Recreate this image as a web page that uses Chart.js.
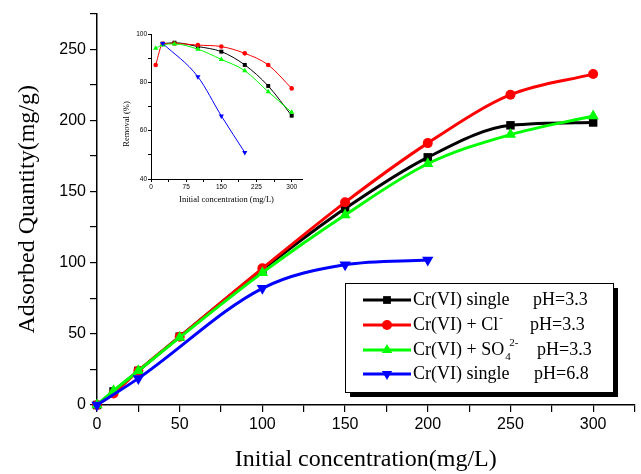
<!DOCTYPE html>
<html>
<head>
<meta charset="utf-8">
<script src="https://cdn.jsdelivr.net/npm/chart.js@4.4.1/dist/chart.umd.min.js"></script>
<style>
  html, body { margin: 0; padding: 0; background: #fff; overflow: hidden; }
  #wrap { position: relative; width: 641px; height: 474px; }
  #main { position: absolute; left: 0; top: 0; }
  #inset { position: absolute; left: 110px; top: 20px; }
</style>
</head>
<body>
<div id="wrap">
  <canvas id="main" width="641" height="474"></canvas>
  <canvas id="inset" width="200" height="195"></canvas>
</div>
<script>
// ---- Adsorption isotherms: adsorbed quantity (mg/g) vs initial concentration (mg/L)
const concA = [0, 10, 25, 50, 100, 150, 200, 250, 300];
const concB = [0, 25, 100, 150, 200];
const qSingle33 = [0, 9.5, 24, 48, 95, 138, 174, 196.5, 198.5];
const qChloride = [0, 8.1, 24, 48, 96, 142.4, 184, 218, 232.5];
const qSulfate  = [0, 10, 24, 47.5, 93, 133.5, 169.5, 190, 203];
const qSingle68 = [0, 18.7, 82, 98.5, 101.8];

// ---- Removal efficiency (%) for the small panel
const remConcA = [10, 25, 50, 100, 150, 200, 250, 300];
const remConcB = [25, 50, 100, 150, 200, 250, 300];
const remConcC = [25, 100, 150, 200];
const remSingle33 = [96, 96.4, 94.8, 92.7, 87.2, 78.5, 66.2];
const remChloride = [87.2, 95.9, 96.1, 95.4, 94.8, 92, 87.2, 77.5];
const remSulfate  = [94.1, 95.5, 95.9, 93.7, 89.5, 84.8, 76.1, 67.6];
const remSingle68 = [96.1, 82.3, 66.1, 51];

// ---- Legend text
const seriesNames = ['Cr(VI) single', 'Cr(VI) + Cl', 'Cr(VI) + SO', 'Cr(VI) single'];
const seriesSub   = ['', '', '4', ''];
const seriesSup   = ['', '-', '2-', ''];
const seriesPH    = ['pH=3.3', 'pH=3.3', 'pH=3.3', 'pH=6.8'];
const seriesColors = ['#000000', '#ff0000', '#00ff00', '#0000ff'];
const seriesMarkers = ['rect', 'circle', 'triangle', 'triangle'];
const seriesRotation = [0, 0, 0, 180];

// ---- Axis titles
const mainXTitle = 'Initial concentration(mg/L)';
const mainYTitle = 'Adsorbed Quantity(mg/g)';
const insetXTitle = 'Initial concentration (mg/L)';
const insetYTitle = 'Removal (%)';

const SANS = "'Liberation Sans', Arial, sans-serif";
const SERIF = "'Liberation Serif', 'Times New Roman', serif";

function pairs(xs, ys) { return xs.map((x, i) => ({ x: x, y: ys[i] })); }

const mainMarkerRadius = [6, 5, 6.5, 6.5];

function mainDataset(i, xs, ys) {
  return {
    label: seriesNames[i],
    data: pairs(xs, ys),
    borderColor: seriesColors[i],
    backgroundColor: seriesColors[i],
    borderWidth: 3,
    pointStyle: seriesMarkers[i],
    pointRotation: seriesRotation[i],
    pointRadius: mainMarkerRadius[i],
    pointBorderWidth: 0,
    cubicInterpolationMode: 'monotone',
    clip: false,
    order: 4 - i
  };
}

// Legend box with a drop shadow, drawn onto the main chart
const legendBox = {
  id: 'legendBox',
  afterDraw(chart) {
    const ctx = chart.ctx;
    const bx = 345, by = 283, bw = 268, bh = 109;
    ctx.save();
    ctx.fillStyle = '#000';
    ctx.fillRect(bx + 5, by + 5, bw, bh);
    ctx.fillStyle = '#fff';
    ctx.fillRect(bx, by, bw, bh);
    ctx.strokeStyle = '#000';
    ctx.lineWidth = 1;
    ctx.strokeRect(bx + 0.5, by + 0.5, bw, bh);
    const rowY = [300, 325, 350, 374];
    const radii = [5.5, 5, 6, 6];
    for (let i = 0; i < 4; i++) {
      const y = rowY[i];
      ctx.strokeStyle = seriesColors[i];
      ctx.lineWidth = 3;
      ctx.beginPath();
      ctx.moveTo(363, y);
      ctx.lineTo(411, y);
      ctx.stroke();
      ctx.fillStyle = seriesColors[i];
      Chart.helpers.drawPoint(ctx, {
        pointStyle: seriesMarkers[i], rotation: seriesRotation[i],
        radius: radii[i], borderWidth: 0
      }, 387, y);
      ctx.fillStyle = '#000';
      ctx.textBaseline = 'middle';
      ctx.textAlign = 'left';
      ctx.font = '18px ' + SERIF;
      ctx.fillText(seriesNames[i], 413, y);
      let x = 413 + ctx.measureText(seriesNames[i]).width;
      ctx.font = '11px ' + SERIF;
      if (seriesSub[i]) ctx.fillText(seriesSub[i], x + 1, y + 7);
      if (seriesSup[i]) ctx.fillText(seriesSup[i], x + (seriesSub[i] ? 5 : 1), y - 7);
      ctx.font = '18px ' + SERIF;
      const phX = [533, 530, 537, 534][i];
      ctx.fillText(seriesPH[i], phX, y);
    }
    ctx.restore();
  }
};

new Chart(document.getElementById('main'), {
  type: 'line',
  data: {
    datasets: [
      mainDataset(0, concA, qSingle33),
      mainDataset(1, concA, qChloride),
      mainDataset(2, concA, qSulfate),
      mainDataset(3, concB, qSingle68)
    ]
  },
  options: {
    responsive: false,
    animation: false,
    devicePixelRatio: 1,
    layout: { padding: { top: 7, right: 6, left: 0, bottom: 0 } },
    plugins: { legend: { display: false }, tooltip: { enabled: false } },
    scales: {
      x: {
        type: 'linear', min: 0, max: 325,
        afterFit(s) { s.height = 69; },
        border: { color: '#000', width: 1.5 },
        grid: { drawOnChartArea: false, drawTicks: true, tickLength: 7, color: '#000', lineWidth: 1.2 },
        ticks: {
          stepSize: 25, padding: 3, color: '#000', autoSkip: false, maxRotation: 0,
          font: { family: SANS, size: 16 },
          callback: v => (v % 50 === 0 ? String(v) : '')
        },
        title: {
          display: true, text: mainXTitle, color: '#000',
          font: { family: SERIF, size: 24 }, padding: { top: 0, bottom: 0 }
        }
      },
      y: {
        type: 'linear', min: 0, max: 275,
        afterFit(s) { s.width = 97; },
        border: { color: '#000', width: 1.5 },
        grid: { drawOnChartArea: false, drawTicks: true, tickLength: 7, color: '#000', lineWidth: 1.2 },
        ticks: {
          stepSize: 25, padding: 4, color: '#000', autoSkip: false,
          font: { family: SANS, size: 16 },
          callback: v => (v % 50 === 0 ? String(v) : '')
        },
        title: {
          display: true, text: mainYTitle, color: '#000',
          font: { family: SERIF, size: 24 }, padding: { top: 13, bottom: 0 }
        }
      }
    }
  },
  plugins: [legendBox]
});

// ---- Small panel: removal efficiency
const insetMarkerRadius = [2.8, 2.3, 3, 3];
function insetDataset(i, xs, ys) {
  return {
    label: seriesNames[i],
    data: pairs(xs, ys),
    borderColor: seriesColors[i],
    backgroundColor: seriesColors[i],
    borderWidth: 1,
    pointStyle: seriesMarkers[i],
    pointRotation: seriesRotation[i],
    pointRadius: insetMarkerRadius[i],
    pointBorderWidth: 0,
    cubicInterpolationMode: 'monotone',
    clip: false,
    order: 4 - i
  };
}

const insetTitles = {
  id: 'insetTitles',
  afterDraw(chart) {
    const ctx = chart.ctx;
    ctx.save();
    ctx.fillStyle = '#000';
    ctx.font = '8.5px ' + SERIF;
    ctx.textAlign = 'center';
    ctx.textBaseline = 'middle';
    ctx.fillText(insetXTitle, (chart.chartArea.left + chart.chartArea.right) / 2, 180);
    ctx.translate(17, 104);
    ctx.rotate(-Math.PI / 2);
    ctx.fillText(insetYTitle, 0, 0);
    ctx.restore();
  }
};

new Chart(document.getElementById('inset'), {
  type: 'line',
  data: {
    datasets: [
      insetDataset(0, remConcB, remSingle33),
      insetDataset(1, remConcA, remChloride),
      insetDataset(2, remConcA, remSulfate),
      insetDataset(3, remConcC, remSingle68)
    ]
  },
  options: {
    responsive: false,
    animation: false,
    devicePixelRatio: 1,
    layout: { padding: { top: 14, right: 8, left: 0, bottom: 0 } },
    plugins: { legend: { display: false }, tooltip: { enabled: false } },
    scales: {
      x: {
        type: 'linear', min: 0, max: 322,
        afterFit(s) { s.height = 36; },
        border: { color: '#000', width: 1 },
        grid: { drawOnChartArea: false, drawTicks: true, tickLength: 3, color: '#000', lineWidth: 1 },
        ticks: {
          stepSize: 37.5, includeBounds: false, padding: 1, color: '#000', autoSkip: false, maxRotation: 0,
          font: { family: SANS, size: 6.5 },
          callback: v => (v % 75 === 0 ? String(v) : '')
        }
      },
      y: {
        type: 'linear', min: 40, max: 100,
        afterFit(s) { s.width = 41; },
        border: { color: '#000', width: 1 },
        grid: { drawOnChartArea: false, drawTicks: true, tickLength: 3, color: '#000', lineWidth: 1 },
        ticks: {
          stepSize: 10, padding: 1, color: '#000', autoSkip: false,
          font: { family: SANS, size: 6.5 },
          callback: v => (v % 20 === 0 ? String(v) : '')
        }
      }
    }
  },
  plugins: [insetTitles]
});
</script>
</body>
</html>
